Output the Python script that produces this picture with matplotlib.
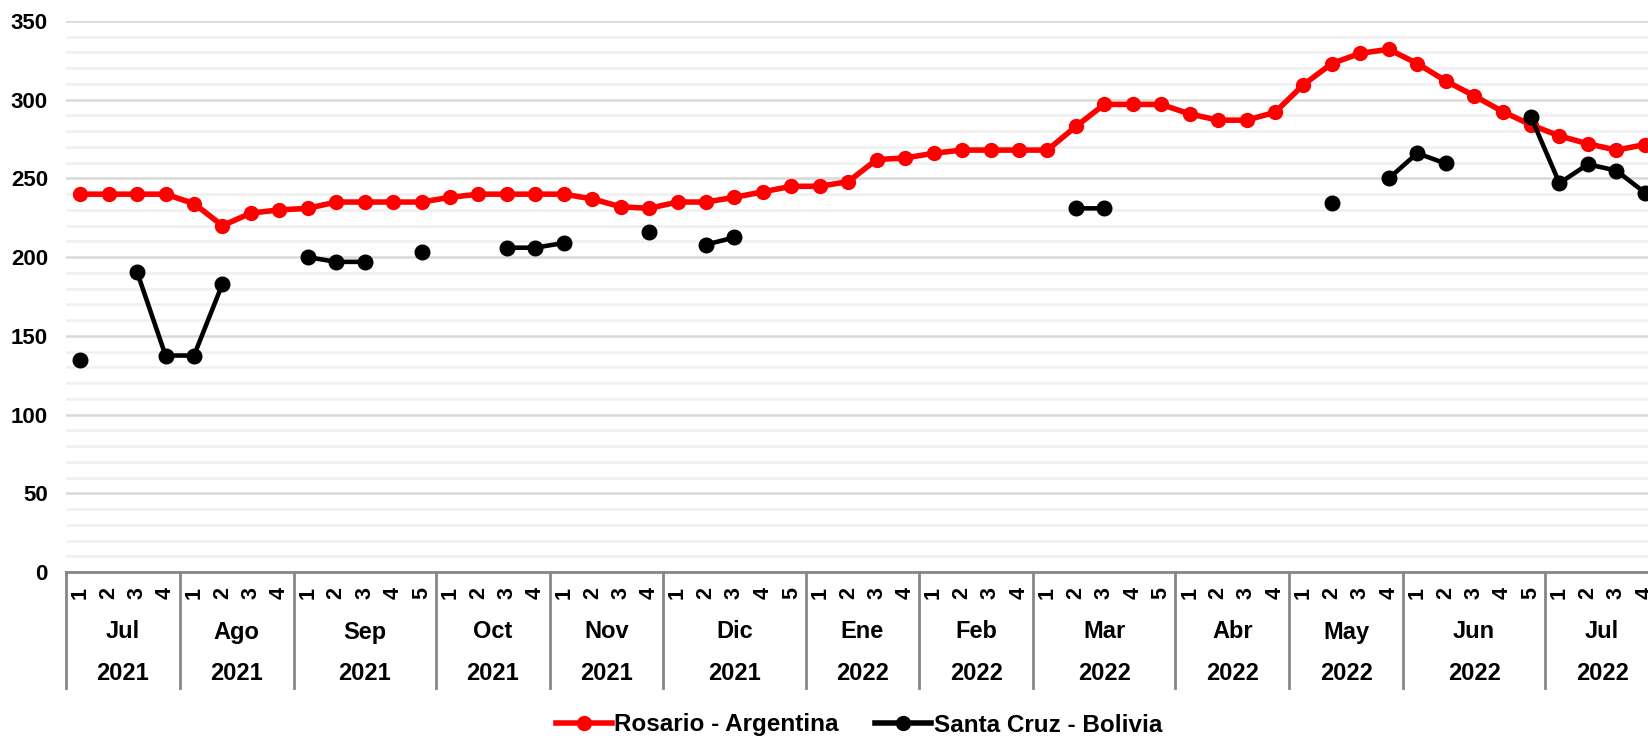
import numpy as np
import matplotlib.pyplot as plt
from matplotlib.lines import Line2D

# Category structure: weeks inside months inside years
months = ['Jul', 'Ago', 'Sep', 'Oct', 'Nov', 'Dic', 'Ene', 'Feb', 'Mar', 'Abr', 'May', 'Jun', 'Jul']
years = ['2021', '2021', '2021', '2021', '2021', '2021',
         '2022', '2022', '2022', '2022', '2022', '2022', '2022']
weeks_per_month = [4, 4, 5, 4, 4, 5, 4, 4, 5, 4, 4, 5, 4]

nan = np.nan
# Rosario - Argentina, one value per week
rosario = [240, 240, 240, 240,
           234, 220, 228, 230,
           231, 235, 235, 235, 235,
           238, 240, 240, 240,
           240, 237, 232, 231,
           235, 235, 238, 241.5, 245,
           245, 248, 262, 263,
           266, 268, 268, 268,
           268, 283, 297, 297, 297,
           291, 287, 287, 292,
           309.5, 323, 329.5, 332,
           323, 312, 302.5, 292.5, 284,
           277, 272, 268, 271.5]

# Santa Cruz - Bolivia, gaps where there is no quote
santa_cruz = [134.5, nan, 190.5, 137.5,
              137.5, 183, nan, nan,
              200, 197, 197, nan, 203,
              nan, nan, 206, 206,
              209, nan, nan, 216,
              nan, 208, 212.5, nan, nan,
              nan, nan, nan, nan,
              nan, nan, nan, nan,
              nan, 231, 231, nan, nan,
              nan, nan, nan, nan,
              nan, 234.5, nan, 250,
              266, 259.5, nan, nan, 289,
              247, 259, 255, 241]

plt.rcParams['font.family'] = ['Liberation Sans', 'DejaVu Sans']
plt.rcParams['font.weight'] = 'bold'

W, H = 1648, 738
fig = plt.figure(figsize=(W / 100, H / 100), dpi=100)
# plot area runs a little past the right edge, like the original
ax = fig.add_axes([66 / W, 1 - 572 / H, 1593 / W, 551 / H])

n = len(rosario)
x = np.arange(n)

ax.plot(x, rosario, color='#ff0000', lw=4.0, marker='o', ms=10, zorder=3)
ax.plot(x, santa_cruz, color='#000000', lw=3.3, marker='o', ms=10.5, zorder=4)

ax.set_xlim(-0.5, n - 0.5)
ax.set_ylim(0, 350)

# gridlines
ax.set_yticks(np.arange(0, 351, 50))
ax.set_yticks(np.arange(0, 351, 10), minor=True)
ax.grid(axis='y', which='major', color='#d9d9d9', lw=1.8, zorder=0)
ax.grid(axis='y', which='minor', color='#f0f0f0', lw=1.8, zorder=0)
ax.tick_params(axis='y', which='both', length=0, pad=13, labelsize=16)
for lab in ax.get_yticklabels():
    lab.set_fontweight('bold')

for s in ['left', 'right', 'top']:
    ax.spines[s].set_visible(False)
ax.spines['bottom'].set_color('#868686')
ax.spines['bottom'].set_linewidth(2)

# multi-level category axis
ax.set_xticks([])
trans = ax.get_xaxis_transform()
ah = 551.0
start = 0
for m, y, k in zip(months, years, weeks_per_month):
    for w in range(k):
        ax.text(start + w, -21 / ah, str(w + 1), transform=trans, rotation=90,
                ha='center', va='center', fontsize=15.5, fontweight='bold')
    mid = start + (k - 1) / 2
    ax.text(mid, -60 / ah, m, transform=trans, ha='center', va='center',
            fontsize=17, fontweight='bold')
    ax.text(mid, -101 / ah, y, transform=trans, ha='center', va='center',
            fontsize=17, fontweight='bold')
    ax.plot([start - 0.5, start - 0.5], [0, -116 / ah], transform=trans,
            color='#868686', lw=2, clip_on=False)
    start += k

handles = [Line2D([], [], color='#ff0000', lw=4.0, marker='o', ms=10),
           Line2D([], [], color='#000000', lw=4.0, marker='o', ms=10)]
fig.legend(handles, ['Rosario - Argentina', 'Santa Cruz - Bolivia'],
           loc='center', bbox_to_anchor=(859 / W, 13 / H), ncol=2, frameon=False,
           prop={'size': 17.5, 'weight': 'bold'}, handlelength=2.3,
           handletextpad=0.1, columnspacing=1.5)

fig.savefig('out.png', dpi=100)
